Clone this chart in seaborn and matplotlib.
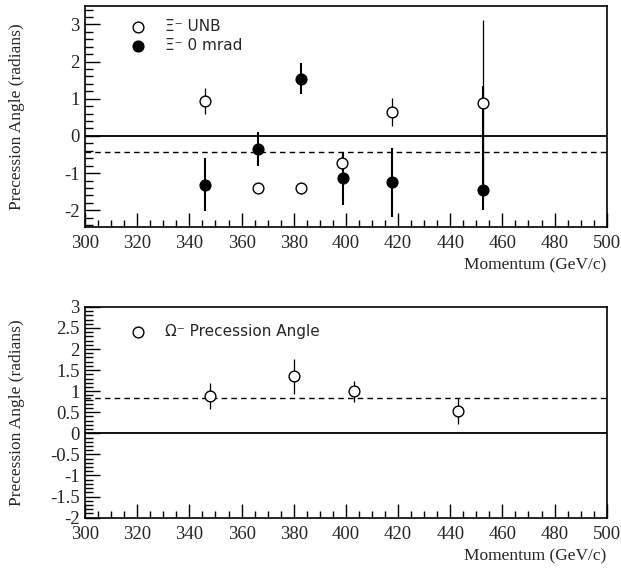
import numpy as np
import pandas as pd
import seaborn as sns
import matplotlib.pyplot as plt
from matplotlib.ticker import MultipleLocator

# top panel: Xi- precession angle
unb_p = [346, 366.4, 382.7, 398.6, 417.7, 452.5]
unb_angle = [0.95, -1.41, -1.41, -0.72, 0.65, 0.88]
unb_err = [0.35, 0.05, 0.15, 0.2, 0.38, 2.25]

mrad_p = [346, 366.4, 382.6, 398.7, 417.7, 452.5]
mrad_angle = [-1.31, -0.35, 1.54, -1.14, -1.25, -1.45]
mrad_err_lo = [0.72, 0.47, 0.42, 0.72, 0.92, 0.55]
mrad_err_hi = [0.72, 0.45, 0.42, 0.72, 0.92, 2.8]
xi_mean = -0.43

# bottom panel: Omega- precession angle
om_p = [347.9, 380, 403, 443]
om_angle = [0.88, 1.35, 1.0, 0.52]
om_err = [0.31, 0.41, 0.25, 0.31]
om_mean = 0.84

sns.set_style("ticks")
plt.rcParams["font.family"] = ["Liberation Serif", "DejaVu Serif"]
plt.rcParams["axes.unicode_minus"] = False
leg_font = {"family": ["DejaVu Sans"], "size": 11}

fig = plt.figure(figsize=(6.21, 5.79), dpi=100)
ax1 = fig.add_axes([0.137, 0.608, 0.840, 0.382])
ax2 = fig.add_axes([0.137, 0.106, 0.840, 0.364])

df_unb = pd.DataFrame({"p": unb_p, "a": unb_angle})
df_mrad = pd.DataFrame({"p": mrad_p, "a": mrad_angle})
df_om = pd.DataFrame({"p": om_p, "a": om_angle})

# top
ax1.axhline(0, color="black", lw=1.3, zorder=1)
ax1.axhline(xi_mean, color="black", lw=1.0, ls=(0, (4, 3)), zorder=1)
ax1.errorbar(unb_p, unb_angle, yerr=unb_err, fmt="none", ecolor="black", elinewidth=0.9, zorder=2)
ax1.errorbar(mrad_p, mrad_angle, yerr=[mrad_err_lo, mrad_err_hi], fmt="none", ecolor="black",
             elinewidth=1.5, zorder=2)
sns.scatterplot(data=df_unb, x="p", y="a", ax=ax1, marker="o", s=60, facecolor="white",
                edgecolor="black", linewidth=1.0, zorder=3, label="Ξ⁻ UNB")
sns.scatterplot(data=df_mrad, x="p", y="a", ax=ax1, marker="o", s=60, color="black",
                edgecolor="black", linewidth=1.0, zorder=3, label="Ξ⁻ 0 mrad")
ax1.set_ylim(-2.45, 3.5)
ax1.yaxis.set_major_locator(MultipleLocator(1))
ax1.yaxis.set_minor_locator(MultipleLocator(0.2))
ax1.legend(loc="upper left", bbox_to_anchor=(0.06, 0.97), frameon=False, prop=leg_font,
           handletextpad=0.8, labelspacing=0.3, borderaxespad=0)

# bottom
ax2.axhline(0, color="black", lw=1.3, zorder=1)
ax2.axhline(om_mean, color="black", lw=1.0, ls=(0, (4, 3)), zorder=1)
ax2.errorbar(om_p, om_angle, yerr=om_err, fmt="none", ecolor="black", elinewidth=0.9, zorder=2)
sns.scatterplot(data=df_om, x="p", y="a", ax=ax2, marker="o", s=60, facecolor="white",
                edgecolor="black", linewidth=1.0, zorder=3, label="Ω⁻ Precession Angle")
ax2.set_ylim(-2, 3)
ax2.yaxis.set_major_locator(MultipleLocator(0.5))
ax2.yaxis.set_minor_locator(MultipleLocator(0.1))
ax2.set_yticks(np.arange(-2, 3.01, 0.5))
ax2.set_yticklabels([f"{v:g}" for v in np.arange(-2, 3.01, 0.5)])
ax2.legend(loc="upper left", bbox_to_anchor=(0.06, 0.95), frameon=False, prop=leg_font,
           handletextpad=0.8, borderaxespad=0)

for ax in (ax1, ax2):
    ax.set_xlim(300, 500)
    ax.xaxis.set_major_locator(MultipleLocator(20))
    ax.xaxis.set_minor_locator(MultipleLocator(5))
    ax.tick_params(which="both", direction="in", top=False, right=False, labelsize=13.5,
                   width=1.0, color="black")
    ax.tick_params(axis="x", which="major", length=10, pad=6)
    ax.tick_params(axis="x", which="minor", length=5)
    ax.tick_params(axis="y", which="major", length=11, pad=4)
    ax.tick_params(axis="y", which="minor", length=6)
    for s in ax.spines.values():
        s.set_linewidth(1.2)
        s.set_color("black")
    ax.set_ylabel("Precession Angle (radians)", fontsize=12.5)
    ax.set_xlabel("Momentum (GeV/c)", fontsize=12.5, ha="right", x=1.0)
    ax.yaxis.set_label_coords(-0.115, 0.5)

fig.savefig("out.png", dpi=100, facecolor="white")
